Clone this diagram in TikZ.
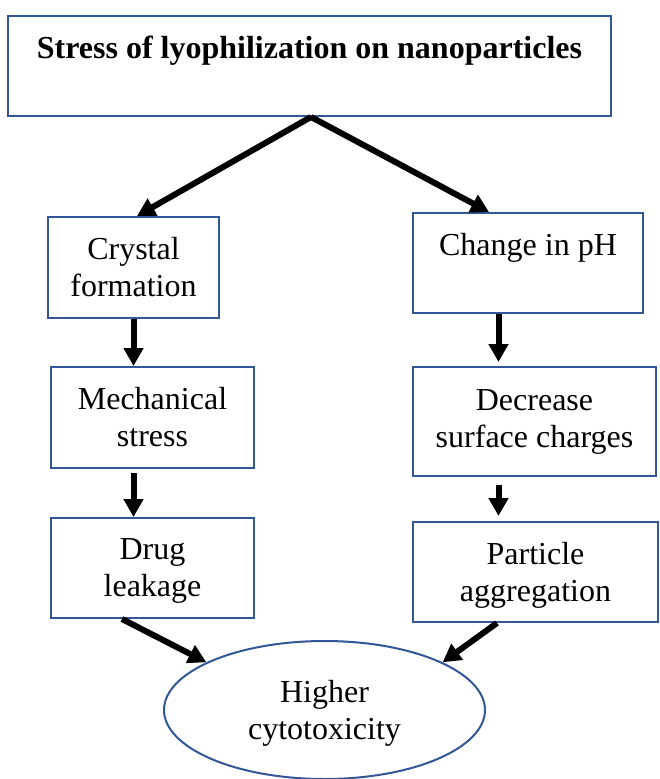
\documentclass[tikz,border=0pt]{standalone}
\usepackage{fontspec}
\setmainfont{Liberation Serif}
\usetikzlibrary{arrows.meta,shapes.geometric,calc}
\definecolor{boxblue}{RGB}{50,86,150}
\newcommand{\nodepth}[1]{\raisebox{0pt}[\height][0pt]{#1}}
\tikzset{
  box/.style={draw=boxblue, line width=2pt, rectangle, inner sep=0pt,
              align=center, font=\fontsize{32}{37}\selectfont},
  oval/.style={draw=boxblue, line width=2pt, ellipse, inner sep=0pt,
               align=center, font=\fontsize{32}{37}\selectfont},
  flow/.style={line width=6pt, -{Triangle[length=18pt,width=19pt]}},
}
\begin{document}
\begin{tikzpicture}[x=1pt,y=-1pt]
  \useasboundingbox (0,0) rectangle (660,779);

  % boxes
  \node[box, minimum width=603pt, minimum height=100pt] (top) at (309.5,66)
    {\textbf{Stress of lyophilization on nanoparticles}\\\mbox{}};
  \node[box, minimum width=171pt, minimum height=101pt] (crystal) at (133.5,267.5)
    {Crystal\\formation};
  \node[box, minimum width=230pt, minimum height=100pt] (change) at (528,263)
    {Change in pH\\\mbox{}};
  \node[box, minimum width=203pt, minimum height=101pt] (mech) at (152.5,417.5)
    {Mechanical\\stress};
  \node[box, minimum width=243pt, minimum height=109pt] (decrease) at (534.5,421.5)
    {Decrease\\surface charges};
  \node[box, minimum width=203pt, minimum height=100pt] (drug) at (152.5,568)
    {Drug\\\nodepth{leakage}};
  \node[box, minimum width=245pt, minimum height=100pt] (particle) at (535.5,572)
    {Particle\\\nodepth{aggregation}};
  \node[oval, minimum width=321pt, minimum height=138pt] (cyto) at (324.5,710)
    {Higher\\\nodepth{cytotoxicity}};

  % connectors
  \draw[flow] ([xshift=1.5pt]top.south) -- ([xshift=3.5pt]crystal.north);
  \draw[flow] ([xshift=1.5pt]top.south) -- ([xshift=77pt]change.north west);

  \draw[flow] (crystal.south) -- (crystal.south |- mech.north);
  \draw[flow] ([yshift=-4pt]crystal.south |- mech.south) -- (crystal.south |- drug.north);

  \draw[flow] ([xshift=86.5pt]change.south west) -- ([xshift=86.5pt,yshift=4pt]decrease.north west);
  \draw[flow] ([xshift=86.5pt,yshift=-8pt]decrease.south west) -- ([xshift=86.5pt,yshift=5pt]particle.north west);

  \draw[flow] ([xshift=72pt]drug.south west) -- (cyto.158);
  \draw[flow] ([xshift=85pt]particle.south west) -- (cyto.22);
\end{tikzpicture}
\end{document}
